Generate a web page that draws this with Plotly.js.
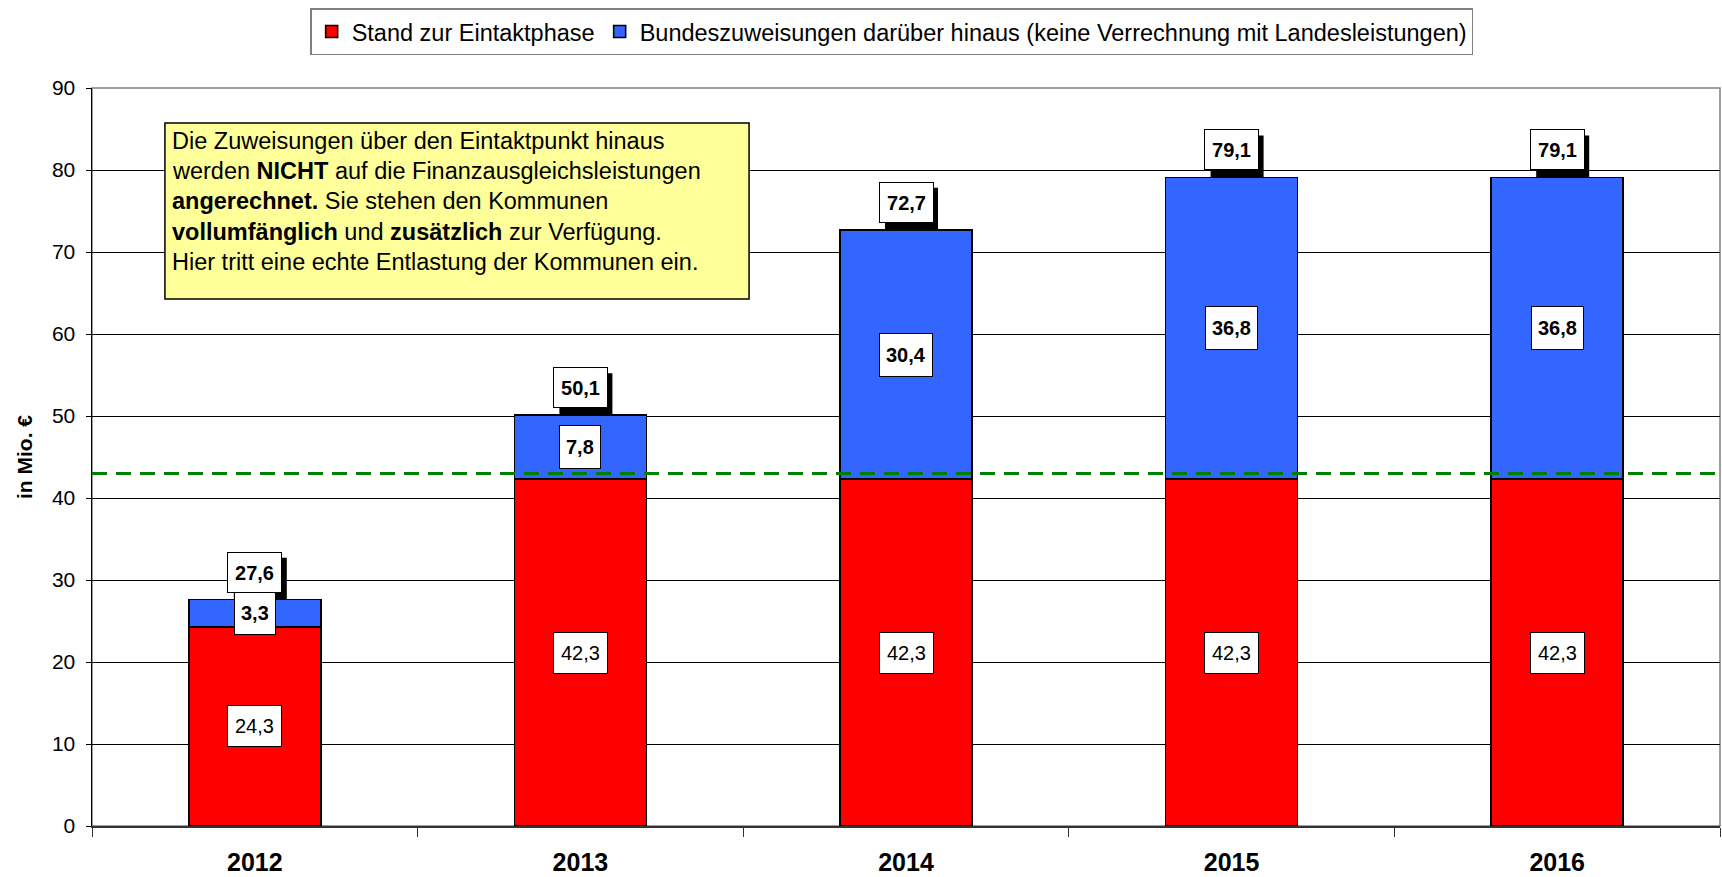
<!DOCTYPE html>
<html>
<head>
<meta charset="utf-8">
<script src="https://cdn.plot.ly/plotly-3.0.1.min.js"></script>
<style>html,body{margin:0;padding:0;background:#fff;}#chart{width:1722px;height:877px;}</style>
</head>
<body>
<div id="chart"></div>
<script>
const years = ['2012', '2013', '2014', '2015', '2016'];
const standValues = [24.3, 42.3, 42.3, 42.3, 42.3];
const bundValues = [3.3, 7.8, 30.4, 36.8, 36.8];
const totalValues = [27.6, 50.1, 72.7, 79.1, 79.1];
const eintaktLevel = 43;
const seriesNames = ['Stand zur Eintaktphase', 'Bundeszuweisungen darüber hinaus (keine Verrechnung mit Landesleistungen)'];
const noteLines = [
  'Die Zuweisungen über den Eintaktpunkt hinaus',
  'werden <b>NICHT</b> auf die Finanzausgleichsleistungen',
  '<b>angerechnet.</b> Sie stehen den Kommunen',
  '<b>vollumfänglich</b> und <b>zusätzlich</b> zur Verfügung.',
  'Hier tritt eine echte Entlastung der Kommunen ein.'
];
const yTitle = 'in Mio. €';

const FONT = 'Liberation Sans, Arial, sans-serif';
const fmt = v => v.toFixed(1).replace('.', ',');

const traces = [
  {type: 'bar', name: seriesNames[0], x: years, y: standValues,
   marker: {color: '#FF0000', line: {color: '#000', width: 1.6}}, hoverinfo: 'none'},
  {type: 'bar', name: seriesNames[1], x: years, y: bundValues,
   marker: {color: '#3366FF', line: {color: '#000', width: 1.6}}, hoverinfo: 'none'}
];

const annotations = [];
// red segment labels
years.forEach((yr, i) => {
  annotations.push({x: i, y: standValues[i] / 2, xref: 'x', yref: 'y', showarrow: false,
    text: fmt(standValues[i]), font: {family: FONT, size: 20, color: '#000'},
    bgcolor: '#fff', bordercolor: '#000', borderwidth: 1, borderpad: 7, height: 26,
    yanchor: 'middle'});
});
// blue segment labels
years.forEach((yr, i) => {
  annotations.push({x: i, y: standValues[i] + bundValues[i] / 2, xref: 'x', yref: 'y', showarrow: false,
    text: '<b>' + fmt(bundValues[i]) + '</b>', font: {family: FONT, size: 20, color: '#000'},
    bgcolor: '#fff', bordercolor: '#000', borderwidth: 1, borderpad: 6, height: 30,
    yanchor: 'middle'});
});
// total labels
years.forEach((yr, i) => {
  annotations.push({x: i, y: totalValues[i], xref: 'x', yref: 'y', showarrow: false,
    text: '<b>' + fmt(totalValues[i]) + '</b>', font: {family: FONT, size: 20, color: '#000'},
    bgcolor: '#fff', bordercolor: '#000', borderwidth: 1, borderpad: 6, height: 27, width: 41,
    yanchor: 'bottom', yshift: 7});
});
// note box lines
const noteY = [0.9287, 0.8880, 0.8465, 0.8050, 0.7636];
noteLines.forEach((t, i) => {
  annotations.push({x: 0.0479, y: noteY[i], xref: 'paper', yref: 'paper', showarrow: false,
    xanchor: 'left', yanchor: 'middle', align: 'left', text: t,
    font: {family: FONT, size: 23.5, color: '#000'}});
});

const shapes = [
  {type: 'rect', xref: 'paper', yref: 'paper', x0: 0, x1: 1, y0: 0, y1: 1,
   line: {color: '#808080', width: 1.5}, layer: 'below'},
  {type: 'line', xref: 'paper', yref: 'y', x0: 0, x1: 1, y0: eintaktLevel, y1: eintaktLevel,
   line: {color: '#008000', width: 3, dash: '15px,9px'}, layer: 'above'},
  {type: 'rect', xref: 'paper', yref: 'paper', x0: 0.0448, x1: 0.4036, y0: 0.7141, y1: 0.9526,
   fillcolor: '#FFFF99', line: {color: '#000', width: 1.5}, layer: 'above'}
];
// shadows behind total labels
years.forEach((yr, i) => {
  shapes.push({type: 'rect', xref: 'x', yref: 'y',
    xsizemode: 'pixel', xanchor: i, x0: -21, x1: 32,
    ysizemode: 'pixel', yanchor: totalValues[i], y0: 0.5, y1: 42,
    fillcolor: '#000', line: {width: 0}, layer: 'above'});
});

const layout = {
  width: 1722, height: 877,
  margin: {l: 92, r: 2, t: 88, b: 51},
  paper_bgcolor: '#fff', plot_bgcolor: '#fff',
  barmode: 'stack', bargap: 0.595,
  font: {family: FONT, color: '#000'},
  showlegend: true,
  legend: {orientation: 'h', x: 0.134, xanchor: 'left', y: 1.108, yanchor: 'top',
    traceorder: 'normal', bordercolor: '#808080', borderwidth: 1.5, bgcolor: '#fff',
    font: {family: FONT, size: 23.5, color: '#000'}, itemwidth: 30},
  xaxis: {type: 'category', range: [-0.5, 4.5], autorange: false,
    tickson: 'boundaries', ticks: 'outside', ticklen: 9, tickcolor: '#333',
    showline: true, linecolor: '#333', linewidth: 1.5, showgrid: false, zeroline: false,
    tickfont: {family: FONT, size: 25, color: '#000', weight: 'bold'}, ticklabelstandoff: 13,
    fixedrange: true},
  yaxis: {range: [0, 90], autorange: false, dtick: 10, ticks: 'outside', ticklen: 5, tickcolor: '#000',
    showline: true, linecolor: '#000', linewidth: 1.5, showgrid: true, gridcolor: '#000', gridwidth: 1,
    zeroline: false, tickfont: {family: FONT, size: 21, color: '#000'}, ticklabelstandoff: 6,
    title: {text: '<b>' + yTitle + '</b>', font: {family: FONT, size: 21, color: '#000'}, standoff: 13},
    fixedrange: true},
  annotations: annotations,
  shapes: shapes
};

Plotly.newPlot('chart', traces, layout, {displayModeBar: false, staticPlot: true});
</script>
</body>
</html>
